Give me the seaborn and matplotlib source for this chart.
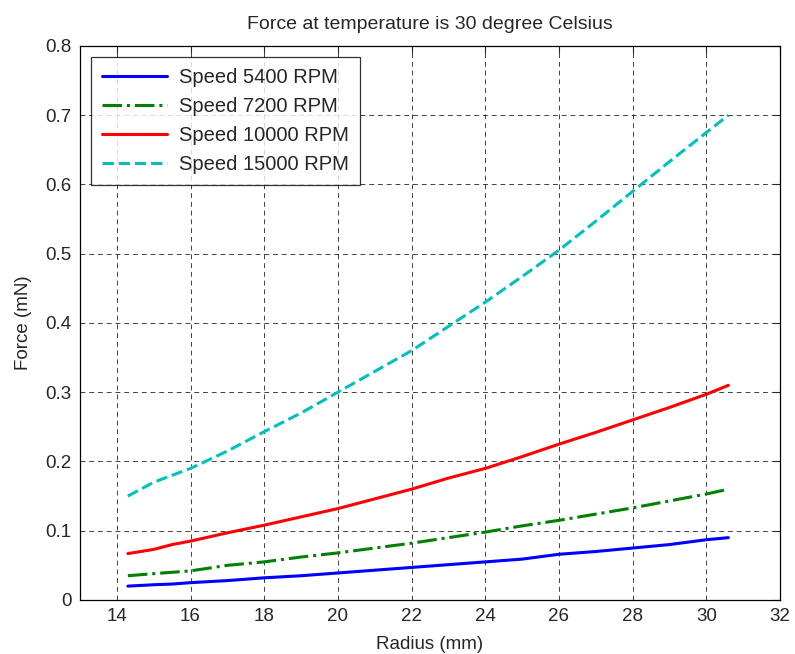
import pandas as pd
import matplotlib
matplotlib.use("Agg")
import matplotlib.pyplot as plt
import seaborn as sns

sns.set_style("white")
plt.rcParams["font.family"] = ["Liberation Sans", "DejaVu Sans"]

radius = [14.3, 15, 15.5, 16, 17, 18, 19, 20, 21, 22, 23, 24, 25, 26, 27, 28, 29, 30, 30.6]
force_5400 = [0.020, 0.022, 0.023, 0.025, 0.028, 0.032, 0.035, 0.039, 0.043, 0.047, 0.051, 0.055,
              0.059, 0.066, 0.070, 0.075, 0.080, 0.087, 0.090]
force_7200 = [0.035, 0.038, 0.040, 0.042, 0.050, 0.055, 0.062, 0.068, 0.075, 0.082, 0.090, 0.098,
              0.107, 0.115, 0.124, 0.133, 0.143, 0.153, 0.160]
force_10000 = [0.067, 0.073, 0.080, 0.085, 0.097, 0.108, 0.120, 0.132, 0.146, 0.160, 0.176, 0.190,
               0.207, 0.225, 0.242, 0.260, 0.278, 0.297, 0.310]
force_15000 = [0.150, 0.170, 0.180, 0.190, 0.215, 0.243, 0.270, 0.300, 0.330, 0.360, 0.395, 0.430,
               0.467, 0.505, 0.547, 0.590, 0.633, 0.675, 0.700]

series = [
    ("Speed 5400 RPM", force_5400, "#0000ff", "-"),
    ("Speed 7200 RPM", force_7200, "#008000", "-."),
    ("Speed 10000 RPM", force_10000, "#ff0000", "-"),
    ("Speed 15000 RPM", force_15000, "#00bfbf", "--"),
]

fig = plt.figure(figsize=(7.95, 6.54), dpi=100)
ax = fig.add_axes([0.1006, 0.0826, 0.8805, 0.8471])

for label, vals, color, ls in series:
    df = pd.DataFrame({"radius": radius, "force": vals})
    sns.lineplot(data=df, x="radius", y="force", ax=ax, color=color, linestyle=ls,
                 linewidth=2.2, label=label)

ax.set_xlim(13, 32)
ax.set_ylim(0, 0.8)
ax.set_xticks(range(14, 33, 2))
ax.set_yticks([i / 10 for i in range(9)])
ax.set_yticklabels(["0"] + [f"{i/10:.1f}" for i in range(1, 9)])
ax.tick_params(direction="in", top=True, right=True, labelsize=13.5, length=5, width=0.8, pad=6)
ax.grid(True, color="black", linestyle=(0, (5, 4)), linewidth=0.7, alpha=0.75)
for s in ax.spines.values():
    s.set_color("black")
    s.set_linewidth(0.9)

ax.set_xlabel("Radius (mm)", fontsize=13.5, labelpad=8)
ax.set_ylabel("Force (mN)", fontsize=13.5, labelpad=10)
ax.set_title("Force at temperature is 30 degree Celsius", fontsize=14, pad=12)

leg = ax.legend(loc="upper left", fontsize=14.5, frameon=True, fancybox=False,
                edgecolor="black", borderaxespad=0.55, handlelength=3.2, labelspacing=0.5,
                borderpad=0.55, handletextpad=0.6)
leg.get_frame().set_linewidth(0.9)

fig.savefig("out.png", dpi=100)
